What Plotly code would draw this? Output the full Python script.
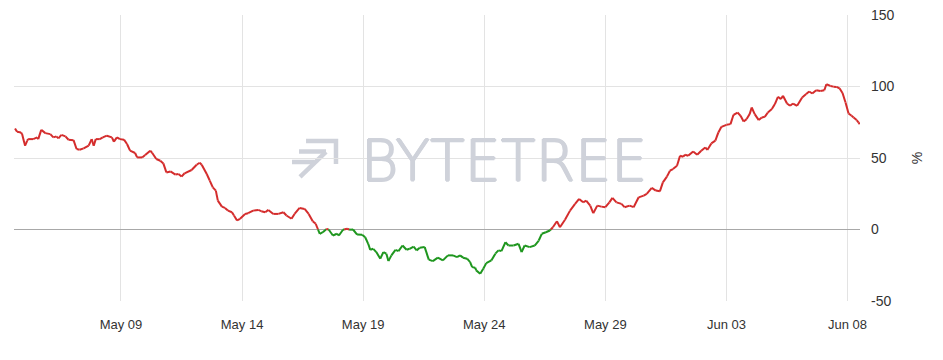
import plotly.graph_objects as go
import pandas as pd

# ---- data (hours since 2021-05-04 00:00, percent change) ----
START = "2021-05-04 00:00"
hours = [15, 17, 21, 22, 25, 27, 28, 33, 37, 38, 41, 45, 50, 53, 56, 58, 61, 65, 68, 73,
         76, 79, 83, 88, 91, 93, 95, 99, 102, 106, 111, 113, 116, 119, 123, 126, 129, 134, 136, 141,
         144, 149, 151, 155, 159, 162, 165, 169, 174, 177, 180, 183, 190, 195, 198, 200, 205, 208, 211, 214,
         216, 220, 223, 226, 230, 232, 235, 238, 243, 246, 251, 256, 259, 263, 266, 271, 276, 281, 284, 289,
         292, 297, 302, 306, 310, 313, 317, 320, 324, 326, 330, 334, 336, 340, 344, 347, 350, 354, 359, 362,
         365, 367, 370, 373, 377, 380, 383, 385, 388, 392, 395, 399, 403, 406, 410, 413, 416, 421, 425, 429,
         434, 439, 444, 449, 453, 456, 459, 463, 466, 468, 471, 472, 476, 479, 482, 487, 491, 494, 497, 501,
         504, 509, 514, 517, 520, 525, 530, 534, 537, 541, 545, 548, 552, 555, 560, 565, 570, 574, 578, 581,
         585, 588, 592, 596, 600, 604, 607, 611, 616, 619, 624, 628, 633, 638, 641, 646, 650, 654, 657, 661,
         664, 667, 671, 674, 677, 679, 682, 687, 691, 695, 699, 701, 705, 709, 712, 715, 720, 724, 727, 731,
         734, 737, 740, 743, 745, 748, 752, 755, 758, 761, 765, 768, 771, 774, 776, 780, 783, 786, 790, 795,
         799, 802, 805, 809, 813, 817, 819, 823, 826, 829, 832, 835, 838, 841, 844, 846, 849, 851, 852]
values = [70.6, 68.3, 67.9, 66.7, 58.6, 62.0, 63.2, 63.2, 64.4, 63.2, 69.7, 67.4, 66.7, 64.4, 65.1, 63.7, 66.2, 65.1, 62.8, 62.5,
          56.3, 55.8, 56.7, 58.6, 63.2, 58.6, 63.2, 63.2, 64.4, 65.6, 64.4, 61.4, 64.4, 63.2, 62.8, 59.8, 55.1, 53.5, 50.4, 50.4,
          52.1, 55.1, 53.5, 49.3, 48.1, 46.2, 39.9, 40.6, 38.4, 38.8, 37.0, 39.3, 41.6, 45.3, 46.7, 45.3, 38.8, 34.2, 29.5, 27.2,
          20.2, 16.0, 15.1, 13.2, 12.1, 9.8, 6.3, 7.5, 10.9, 11.4, 13.2, 13.7, 12.8, 12.1, 13.7, 10.9, 10.9, 12.1, 9.8, 7.5,
          10.9, 15.1, 14.4, 10.9, 5.8, 4.0, -3.0, -1.9, 0.5, -0.2, -4.2, -3.0, -4.2, -0.2, 0.5, -0.2, 0.0, -3.5, -3.7, -5.4,
          -10.0, -14.2, -13.5, -15.8, -20.4, -15.8, -16.9, -22.1, -18.1, -14.2, -15.1, -11.2, -14.2, -13.5, -11.9, -14.6, -12.8, -12.3, -21.1, -22.1,
          -19.7, -21.6, -18.1, -18.1, -19.3, -18.1, -19.7, -20.4, -22.8, -26.3, -26.7, -28.6, -30.9, -27.4, -23.5, -21.6, -16.9, -14.6, -15.1, -8.9,
          -11.2, -11.2, -10.0, -15.8, -11.2, -12.3, -11.2, -7.7, -3.0, -1.9, -0.7, 1.6, 5.8, 1.6, 6.8, 13.2, 17.9, 21.4, 19.0, 20.2,
          16.7, 11.4, 16.7, 16.0, 15.6, 19.0, 22.1, 19.0, 17.9, 15.6, 16.7, 15.6, 22.5, 23.7, 24.9, 29.1, 27.2, 26.7, 33.0, 37.0,
          41.1, 42.3, 44.6, 51.6, 50.9, 52.3, 51.6, 54.6, 52.3, 55.1, 57.4, 55.6, 60.2, 62.1, 67.9, 71.8, 73.2, 73.7, 80.2, 81.8,
          79.5, 75.5, 77.2, 80.7, 85.3, 80.7, 76.5, 78.3, 78.8, 81.8, 84.2, 87.7, 92.8, 91.2, 93.5, 88.1, 86.5, 88.1, 86.5, 92.3,
          94.7, 96.5, 95.1, 97.4, 96.9, 97.4, 101.6, 100.4, 99.9, 99.7, 98.8, 95.5, 88.8, 81.1, 79.5, 78.3, 76.5, 74.8, 73.7]

tick_dates = ["2021-05-09", "2021-05-14", "2021-05-19", "2021-05-24", "2021-05-29", "2021-06-03", "2021-06-08"]
tick_labels = ["May 09", "May 14", "May 19", "May 24", "May 29", "Jun 03", "Jun 08"]
y_ticks = [-50, 0, 50, 100, 150]
y_tick_labels = ["-50", "0", "50", "100", "150"]

RED = "#d42c2c"
GREEN = "#1e961e"

t0 = pd.Timestamp(START)
times = [t0 + pd.Timedelta(hours=h) for h in hours]

# split into positive (red) / negative (green) segments, joining at zero crossings
red_x, red_y, green_x, green_y = [], [], [], []
for i in range(len(values) - 1):
    ta, tb = times[i], times[i + 1]
    va, vb = values[i], values[i + 1]
    if (va >= 0) == (vb >= 0):
        if va >= 0:
            red_x += [ta, tb, None]; red_y += [va, vb, None]
        else:
            green_x += [ta, tb, None]; green_y += [va, vb, None]
    else:
        f = va / (va - vb)
        tc = ta + (tb - ta) * f
        if va >= 0:
            red_x += [ta, tc, None]; red_y += [va, 0, None]
            green_x += [tc, tb, None]; green_y += [0, vb, None]
        else:
            green_x += [ta, tc, None]; green_y += [va, 0, None]
            red_x += [tc, tb, None]; red_y += [0, vb, None]

fig = go.Figure()
fig.add_trace(go.Scatter(x=red_x, y=red_y, mode="lines", line=dict(color=RED, width=2),
                         connectgaps=False, showlegend=False, hoverinfo="skip"))
fig.add_trace(go.Scatter(x=green_x, y=green_y, mode="lines", line=dict(color=GREEN, width=2),
                         connectgaps=False, showlegend=False, hoverinfo="skip"))

W, H = 943, 360
ML, MR, MT, MB = 14, 83, 15, 59
PW, PH = W - ML - MR, H - MT - MB


def px(xp, yp):
    return (xp - ML) / PW, (H - MB - yp) / PH


WM = "#cfd2da"
# watermark logo (decorative)
def seg(points):
    p = [px(a, b) for a, b in points]
    d = "M " + " L ".join(f"{a:.4f},{b:.4f}" for a, b in p)
    fig.add_shape(type="path", path=d, xref="paper", yref="paper",
                  line=dict(color=WM, width=4.5), layer="below")

seg([(306, 141), (336, 141), (336, 164)])
seg([(299, 151.5), (326, 151.5)])
seg([(292, 162), (314, 162)])
seg([(326, 152), (300, 177)])

cx, cy = px(504, 161)
fig.add_annotation(text="BYTETREE", x=cx, y=cy, xref="paper", yref="paper",
                   showarrow=False, xanchor="center", yanchor="middle",
                   font=dict(family="DejaVu Sans", size=57, color=WM, weight=200,
                             shadow=f"1px 0 0 {WM}, -1px 0 0 {WM}, 0 1px 0 {WM}, 0 -1px 0 {WM}"))

fig.update_layout(
    width=W, height=H,
    margin=dict(l=ML, r=MR, t=MT, b=MB, autoexpand=False),
    paper_bgcolor="white", plot_bgcolor="white",
    font=dict(family="Liberation Sans, Arial, sans-serif", size=13, color="#333333"),
    xaxis=dict(
        range=["2021-05-04 14:00", "2021-06-08 12:20"],
        tickvals=tick_dates, ticktext=tick_labels,
        showgrid=True, gridcolor="#e3e3e3", gridwidth=1,
        zeroline=False, showline=False, ticks="", automargin=False,
        ticklabelstandoff=14,
        tickfont=dict(size=13, color="#333333"),
    ),
    yaxis=dict(
        side="right", range=[-50, 150], tickvals=y_ticks, ticktext=y_tick_labels,
        showgrid=True, gridcolor="#e3e3e3", gridwidth=1,
        zeroline=True, zerolinecolor="#a8a8a8", zerolinewidth=1,
        showline=False, ticks="", ticklabelstandoff=10, automargin=False,
        tickfont=dict(size=14, color="#333333"),
        title=dict(text="%", standoff=18, font=dict(size=14, color="#333333")),
    ),
)

fig.write_html("out.html")
